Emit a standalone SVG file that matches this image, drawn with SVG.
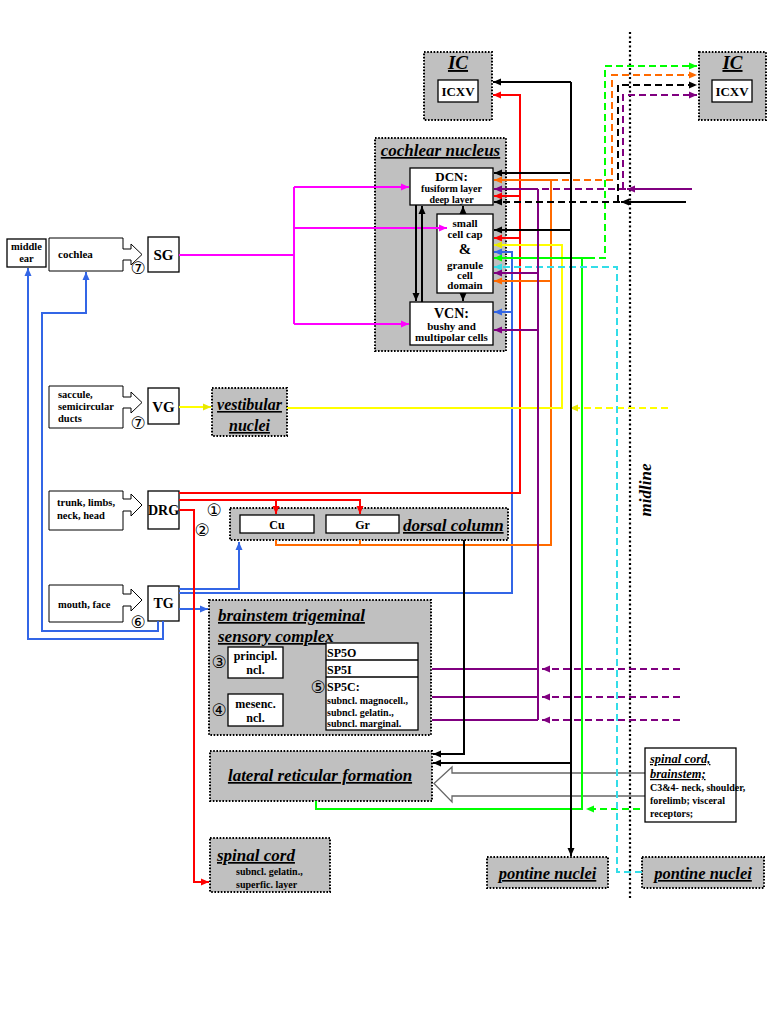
<svg xmlns="http://www.w3.org/2000/svg" width="777" height="1036" viewBox="0 0 777 1036">
<style>
.box{fill:#fff;stroke:#000;stroke-width:1.3}
.gbox{fill:#c0c0c0;stroke:#000;stroke-width:2;stroke-dasharray:1.6 1.6}
.blk{fill:#fff;stroke:#000;stroke-width:1}
.t{font-family:"Liberation Serif","Times New Roman",serif;font-weight:bold;fill:#000}
.ti{font-family:"Liberation Serif","Times New Roman",serif;font-weight:bold;font-style:italic;text-decoration:underline;fill:#000}
.m{text-anchor:middle}
.c{font-family:"DejaVu Sans",sans-serif;font-size:17px;text-anchor:middle;fill:#000}
#connectors path{fill:none;stroke-width:2}
.d{stroke-dasharray:7 4}
.k{stroke:#000}.r{stroke:#ff0000}.o{stroke:#ff6a00}.p{stroke:#800080}.y{stroke:#ffff00}.g{stroke:#00ff00}.cy{stroke:#33dde8}.b{stroke:#3366e6}.mg{stroke:#ff00ff}
</style>
<defs>
<marker id="ak" markerWidth="9" markerHeight="8" refX="8" refY="4" orient="auto" markerUnits="userSpaceOnUse"><polygon points="0,0.5 8,4 0,7.5" fill="#000"/></marker>
<marker id="ar" markerWidth="9" markerHeight="8" refX="8" refY="4" orient="auto" markerUnits="userSpaceOnUse"><polygon points="0,0.5 8,4 0,7.5" fill="#ff0000"/></marker>
<marker id="ao" markerWidth="9" markerHeight="8" refX="8" refY="4" orient="auto" markerUnits="userSpaceOnUse"><polygon points="0,0.5 8,4 0,7.5" fill="#ff6a00"/></marker>
<marker id="ap" markerWidth="9" markerHeight="8" refX="8" refY="4" orient="auto" markerUnits="userSpaceOnUse"><polygon points="0,0.5 8,4 0,7.5" fill="#800080"/></marker>
<marker id="ay" markerWidth="9" markerHeight="8" refX="8" refY="4" orient="auto" markerUnits="userSpaceOnUse"><polygon points="0,0.5 8,4 0,7.5" fill="#e8e800"/></marker>
<marker id="ag" markerWidth="9" markerHeight="8" refX="8" refY="4" orient="auto" markerUnits="userSpaceOnUse"><polygon points="0,0.5 8,4 0,7.5" fill="#00ff00"/></marker>
<marker id="ac" markerWidth="9" markerHeight="8" refX="8" refY="4" orient="auto" markerUnits="userSpaceOnUse"><polygon points="0,0.5 8,4 0,7.5" fill="#33dde8"/></marker>
<marker id="ab" markerWidth="9" markerHeight="8" refX="8" refY="4" orient="auto" markerUnits="userSpaceOnUse"><polygon points="0,0.5 8,4 0,7.5" fill="#3366e6"/></marker>
<marker id="am" markerWidth="9" markerHeight="8" refX="8" refY="4" orient="auto" markerUnits="userSpaceOnUse"><polygon points="0,0.5 8,4 0,7.5" fill="#ff00ff"/></marker>
</defs>
<rect width="777" height="1036" fill="#fff"/>

<!-- midline -->
<g id="midline">
<path d="M630,32 V900" fill="none" stroke="#000" stroke-width="2.2" stroke-dasharray="2 2.5"/>
<text class="t" font-size="17" font-style="italic" transform="translate(651,490) rotate(-90)" text-anchor="middle">midline</text>
</g>

<!-- hollow arrow into lateral reticular formation -->
<g id="lrf-input-arrow">
<path d="M645,773 H452 V767 L434,783.5 L452,802 V796 H645" fill="none" stroke="#666" stroke-width="1.3"/>
</g>

<!-- nodes -->
<g id="middle-ear"><rect class="box" x="7" y="239" width="39" height="28"/>
<text class="t m" x="26.5" y="250" font-size="10.5">middle</text><text class="t m" x="26.5" y="262" font-size="10.5">ear</text></g>

<g id="cochlea"><path class="blk" d="M49,238 H123 V249 H131 V244 L142,254.5 L131,265 V260 H123 V271 H49 Z"/>
<text class="t" x="58" y="258" font-size="11">cochlea</text></g>
<g id="SG"><rect class="box" x="148" y="237" width="31" height="35"/><text class="t m" x="163.5" y="260" font-size="15">SG</text>
<text class="c" x="138" y="274">⑦</text></g>

<g id="saccule"><path class="blk" d="M49,386 H123 V397 H131 V392 L142,402.5 L131,413 V408 H123 V428 H49 Z"/>
<text class="t" x="58" y="398" font-size="10.5">saccule,</text><text class="t" x="58" y="410" font-size="10.5">semicircular</text><text class="t" x="58" y="422" font-size="10.5">ducts</text></g>
<g id="VG"><rect class="box" x="148" y="388" width="31" height="36"/><text class="t m" x="163.5" y="412" font-size="15">VG</text>
<text class="c" x="138" y="429">⑦</text></g>
<g id="vestibular-nuclei"><rect class="gbox" x="212" y="388" width="75" height="48"/>
<text class="ti m" x="249.5" y="410" font-size="16">vestibular</text><text class="ti m" x="249.5" y="431" font-size="16">nuclei</text></g>

<g id="trunk"><path class="blk" d="M49,491 H123 V499 H131 V494 L142,505 L131,516 V511 H123 V530 H49 Z"/>
<text class="t" x="57" y="506" font-size="10.5">trunk, limbs,</text><text class="t" x="57" y="519" font-size="10.5">neck, head</text></g>
<g id="DRG"><rect class="box" x="148" y="491" width="31" height="38"/><text class="t m" x="163.5" y="515" font-size="14">DRG</text>
<text class="c" x="214" y="516">①</text><text class="c" x="202" y="536">②</text></g>

<g id="mouth-face"><path class="blk" d="M49,585 H123 V594 H131 V589 L142,600 L131,611 V606 H123 V622 H49 Z"/>
<text class="t" x="58" y="608" font-size="10.5">mouth, face</text></g>
<g id="TG"><rect class="box" x="148" y="586" width="31" height="35"/><text class="t m" x="163.5" y="608" font-size="14">TG</text>
<text class="c" x="138" y="628">⑥</text></g>

<g id="dorsal-column"><rect class="gbox" x="230" y="508" width="278" height="32"/>
<rect class="box" x="240" y="515" width="74" height="18"/><text class="t m" x="277" y="529" font-size="12">Cu</text>
<rect class="box" x="326" y="515" width="73" height="18"/><text class="t m" x="362.5" y="529" font-size="12">Gr</text>
<text class="ti" x="403" y="531" font-size="17">dorsal column</text></g>

<g id="brainstem-trigeminal"><rect class="gbox" x="209" y="600" width="222" height="135"/>
<text class="ti" x="218" y="621" font-size="17">brainstem trigeminal</text>
<text class="ti" x="218" y="642" font-size="17">sensory complex</text>
<rect class="box" x="228" y="647" width="55" height="31"/><text class="t m" x="255.5" y="660" font-size="12">principl.</text><text class="t m" x="255.5" y="674" font-size="12">ncl.</text>
<rect class="box" x="228" y="694" width="55" height="32"/><text class="t m" x="255.5" y="708" font-size="12">mesenc.</text><text class="t m" x="255.5" y="722" font-size="12">ncl.</text>
<text class="c" x="219" y="668">③</text><text class="c" x="219" y="716">④</text>
<rect class="box" x="326" y="643" width="92" height="87"/>
<path d="M326,660 H418 M326,677 H418" fill="none" stroke="#000" stroke-width="1.3"/>
<text class="t" x="327" y="657" font-size="12">SP5O</text>
<text class="t" x="327" y="674" font-size="12">SP5I</text>
<text class="t" x="327" y="691" font-size="12">SP5C:</text>
<text class="t" x="327" y="704" font-size="10">subncl. magnocell.,</text>
<text class="t" x="327" y="716" font-size="10">subncl. gelatin.,</text>
<text class="t" x="327" y="727" font-size="10">subncl. marginal.</text>
<text class="c" x="318" y="693">⑤</text></g>

<g id="lateral-reticular-formation"><rect class="gbox" x="210" y="751" width="222" height="50"/>
<text class="ti m" x="320" y="781" font-size="17">lateral reticular formation</text></g>

<g id="spinal-cord"><rect class="gbox" x="210" y="838" width="120" height="54"/>
<text class="ti" x="217" y="861" font-size="17">spinal cord</text>
<text class="t" x="236" y="875" font-size="10">subncl. gelatin.,</text>
<text class="t" x="236" y="888" font-size="10">superfic. layer</text></g>

<g id="pontine-nuclei-left"><rect class="gbox" x="487" y="857" width="121" height="31"/>
<text class="ti m" x="547.5" y="879" font-size="16.5">pontine nuclei</text></g>
<g id="pontine-nuclei-right"><rect class="gbox" x="642" y="857" width="122" height="31"/>
<text class="ti m" x="703" y="879" font-size="16.5">pontine nuclei</text></g>

<g id="spinal-cord-brainstem"><rect class="box" x="645" y="748" width="91" height="74"/>
<text class="ti" x="650" y="763" font-size="12.5">spinal cord,</text>
<text class="ti" x="650" y="778" font-size="12.5">brainstem;</text>
<text class="t" x="650" y="791" font-size="10">C3&amp;4- neck, shoulder,</text>
<text class="t" x="650" y="804" font-size="10"> forelimb; visceral</text>
<text class="t" x="650" y="817" font-size="10">receptors;</text></g>

<g id="IC-left"><rect class="gbox" x="424" y="52" width="68" height="68"/>
<text class="ti m" x="458" y="69" font-size="19">IC</text>
<rect class="box" x="438" y="80" width="40" height="22"/><text class="t m" x="458" y="96" font-size="13">ICXV</text></g>
<g id="IC-right"><rect class="gbox" x="699" y="52" width="67" height="68"/>
<text class="ti m" x="732.5" y="69" font-size="19">IC</text>
<rect class="box" x="712" y="80" width="40" height="22"/><text class="t m" x="732" y="96" font-size="13">ICXV</text></g>

<g id="cochlear-nucleus"><rect class="gbox" x="375" y="138" width="131" height="213"/>
<text class="ti m" x="440.5" y="156" font-size="17">cochlear nucleus</text>
<g id="DCN"><rect class="box" x="410" y="168" width="83" height="37"/>
<text class="t m" x="451.5" y="180.5" font-size="13">DCN:</text>
<text class="t m" x="451.5" y="192" font-size="10">fusiform layer</text>
<text class="t m" x="451.5" y="202.5" font-size="10">deep layer</text></g>
<g id="small-cell-cap"><rect class="box" x="437" y="214" width="56" height="79"/>
<text class="t m" x="465" y="227" font-size="11">small</text>
<text class="t m" x="465" y="238" font-size="11">cell cap</text>
<text class="t m" x="465" y="254" font-size="15">&amp;</text>
<text class="t m" x="465" y="269" font-size="11">granule</text>
<text class="t m" x="465" y="279" font-size="11">cell</text>
<text class="t m" x="465" y="289" font-size="11">domain</text></g>
<g id="VCN"><rect class="box" x="410" y="302" width="83" height="43"/>
<text class="t m" x="451.5" y="318" font-size="14">VCN:</text>
<text class="t m" x="451.5" y="330" font-size="11">bushy and</text>
<text class="t m" x="451.5" y="341" font-size="11">multipolar cells</text></g>
</g>

<!-- connectors -->
<g id="connectors">
<!-- magenta -->
<path class="mg" d="M179,255 H294"/>
<path class="mg" d="M294,187 V324"/>
<path class="mg" d="M294,187 H409" marker-end="url(#am)"/>
<path class="mg" d="M294,228 H447" marker-end="url(#am)"/>
<path class="mg" d="M294,324 H409" marker-end="url(#am)"/>
<!-- blue -->
<path class="b" d="M179,589 H239 V542" marker-end="url(#ab)"/>
<path class="b" d="M179,593 H512 V252 H494" marker-end="url(#ab)"/>
<path class="b" d="M512,312 H494" marker-end="url(#ab)"/>
<path class="b" d="M179,609 H208" marker-end="url(#ab)"/>
<path class="b" d="M158,621 V631 H42 V313 H86 V272" marker-end="url(#ab)"/>
<path class="b" d="M163,621 V639 H28 V268" marker-end="url(#ab)"/>
<!-- red -->
<path class="r" d="M179,493 H520 V95 H493" marker-end="url(#ar)"/>
<path class="r" d="M520,196 H494" marker-end="url(#ar)"/>
<path class="r" d="M520,238 H494" marker-end="url(#ar)"/>
<path class="r" d="M179,500 H360 V514" marker-end="url(#ar)"/>
<path class="r" d="M276,500 V514" marker-end="url(#ar)"/>
<path class="r" d="M179,510 H194 V882 H209" marker-end="url(#ar)"/>
<!-- orange -->
<path class="o" d="M276,540 V545 H551 V180 H494" marker-end="url(#ao)"/>
<path class="o" d="M360,540 V545"/>
<path class="o" d="M551,281 H494" marker-end="url(#ao)"/>
<path class="o d" d="M551,180 H612 V75 H697" marker-end="url(#ao)"/>
<!-- yellow -->
<path class="y" d="M179,407 H211" marker-end="url(#ay)"/>
<path class="y" d="M287,408 H562 V245 H494" marker-end="url(#ay)"/>
<path class="y d" d="M668,408 H570" marker-end="url(#ay)"/>
<!-- green -->
<path class="g" d="M316,801 V809 H582 V258 H494" marker-end="url(#ag)"/>
<path class="g" d="M582,258 H588"/>
<path class="g d" d="M588,258 H605 V66 H697" marker-end="url(#ag)"/>
<path class="g d" d="M640,809 H586" marker-end="url(#ag)"/>
<!-- cyan -->
<path class="cy d" d="M642,872 H617 V267 H494" marker-end="url(#ac)"/>
<!-- purple -->
<path class="p" d="M538,189 V720"/>
<path class="p" d="M538,189 H494" marker-end="url(#ap)"/>
<path class="p" d="M538,273 H494" marker-end="url(#ap)"/>
<path class="p" d="M538,330 H494" marker-end="url(#ap)"/>
<path class="p d" d="M626,189 H540"/>
<path class="p" d="M692,189 H627" marker-end="url(#ap)"/>
<path class="p d" d="M623,189 V95 H697" marker-end="url(#ap)"/>
<path class="p" d="M432,669 H538 M432,697 H538 M432,720 H538"/>
<path class="p d" d="M680,669 H542" marker-end="url(#ap)"/>
<path class="p d" d="M680,697 H542" marker-end="url(#ap)"/>
<path class="p d" d="M680,720 H542" marker-end="url(#ap)"/>
<!-- black -->
<path class="k" d="M571,82 V856" marker-end="url(#ak)"/>
<path class="k" d="M571,82 H493" marker-end="url(#ak)"/>
<path class="k" d="M571,173 H494" marker-end="url(#ak)"/>
<path class="k" d="M571,230 H494" marker-end="url(#ak)"/>
<path class="k" d="M571,763 H433" marker-end="url(#ak)"/>
<path class="k" d="M464,540 V754 H433" marker-end="url(#ak)"/>
<path class="k" d="M686,202 H621" marker-end="url(#ak)"/>
<path class="k d" d="M620,202 H494" marker-end="url(#ak)"/>
<path class="k d" d="M618,202 V85 H697" marker-end="url(#ak)"/>
<path class="k" d="M416,205 V301" marker-end="url(#ak)"/>
<path class="k" d="M422,302 V206" marker-end="url(#ak)"/>
<path class="k" d="M463,214 V206" marker-end="url(#ak)"/>
<path class="k" d="M463,293 V301" marker-end="url(#ak)"/>
</g>
</svg>
